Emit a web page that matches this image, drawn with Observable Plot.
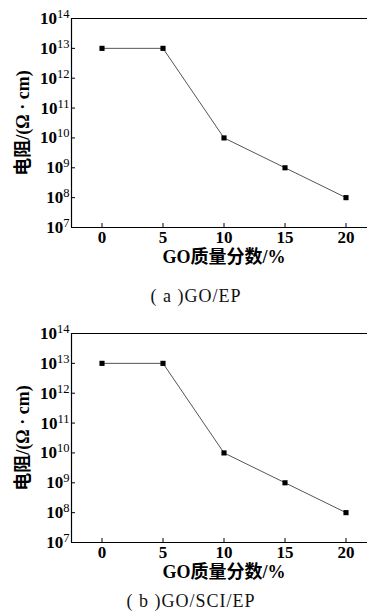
<!DOCTYPE html>
<html><head><meta charset="utf-8">
<script src="https://cdn.jsdelivr.net/npm/d3@7"></script>
<script src="https://cdn.jsdelivr.net/npm/@observablehq/plot@0.6"></script>
<style>
body{margin:0;background:#fff;width:367px;overflow:hidden;}
.cap{height:45px;line-height:18px;box-sizing:border-box;font-family:'Liberation Serif','Noto Serif CJK SC','Noto Sans CJK SC',serif;font-size:18px;letter-spacing:1px;color:#111;white-space:nowrap;position:relative;}
.cap span{position:absolute;transform:translateX(-50%);}
svg{display:block;}
svg text{font-family:'Liberation Serif','Noto Sans CJK SC',serif !important;font-weight:bold;font-size:17px;fill:#000;}
svg g[aria-label$="axis label"] text{font-size:18px;}
</style></head><body>
<div id="root"></div>
<script>
const goPct = [0, 5, 10, 15, 20];
const resistA = [1e13, 1e13, 1e10, 1e9, 1e8];
const resistB = [1e13, 1e13, 1e10, 1e9, 1e8];
const xTicks = [0, 5, 10, 15, 20];
const yTicks = [1e7, 1e8, 1e9, 1e10, 1e11, 1e12, 1e13, 1e14];
const xDomain = [-2.5, 22.5];
const yDomain = [1e7, 1e14];
const xLabel = "GO质量分数/%";
const yLabel = "电阻/(Ω · cm)";
const captions = ["( a )GO/EP", "( b )GO/SCI/EP"];
const capPos = [{left: 196, top: 17}, {left: 191, top: 7}];

function panel(values, caption, pos) {
  const data = goPct.map((x, i) => ({x, y: values[i]}));
  const svg = Plot.plot({
    width: 367, height: 270,
    marginLeft: 71, marginRight: -9, marginTop: 18, marginBottom: 43,
    style: {background: "white", overflow: "visible"},
    x: {domain: xDomain},
    y: {type: "log", domain: yDomain},
    marks: [
      Plot.ruleY([yDomain[1]], {stroke: "#000", strokeWidth: 1.2}),
      Plot.ruleY([yDomain[0]], {stroke: "#000", strokeWidth: 1.2}),
      Plot.ruleX([xDomain[0]], {stroke: "#000", strokeWidth: 1.2}),
      Plot.axisX({ticks: xTicks, tickSize: -4, tickPadding: 7, tickFormat: d => String(d),
        label: xLabel, labelAnchor: "center", labelArrow: "none", labelOffset: 35}),
      Plot.axisY({ticks: yTicks, tickSize: -4, tickPadding: 6, tickFormat: d => "10^" + Math.round(Math.log10(d)),
        label: yLabel, labelAnchor: "center", labelArrow: "none", labelOffset: 55}),
      Plot.line(data, {x: "x", y: "y", stroke: "#555", strokeWidth: 1}),
      Plot.dot(data, {x: "x", y: "y", symbol: "square", r: 2.9, fill: "#000", stroke: "none"})
    ]
  });
  svg.querySelectorAll("text").forEach(t => {
    const s = t.textContent;
    const m = /^10\^(\d+)$/.exec(s);
    if (m) {
      t.textContent = "";
      const a = document.createElementNS("http://www.w3.org/2000/svg", "tspan");
      a.textContent = "10";
      const b = document.createElementNS("http://www.w3.org/2000/svg", "tspan");
      b.textContent = m[1];
      b.setAttribute("style", "font-size:12.5px;font-weight:normal");
      b.setAttribute("dy", "-6");
      t.appendChild(a); t.appendChild(b);
    }
  });
  const root = document.getElementById("root");
  root.appendChild(svg);
  const cap = document.createElement("div");
  cap.className = "cap";
  const sp = document.createElement("span");
  sp.textContent = caption;
  sp.style.left = pos.left + "px";
  sp.style.top = pos.top + "px";
  cap.appendChild(sp);
  root.appendChild(cap);
}
panel(resistA, captions[0], capPos[0]);
panel(resistB, captions[1], capPos[1]);
</script>
</body></html>
